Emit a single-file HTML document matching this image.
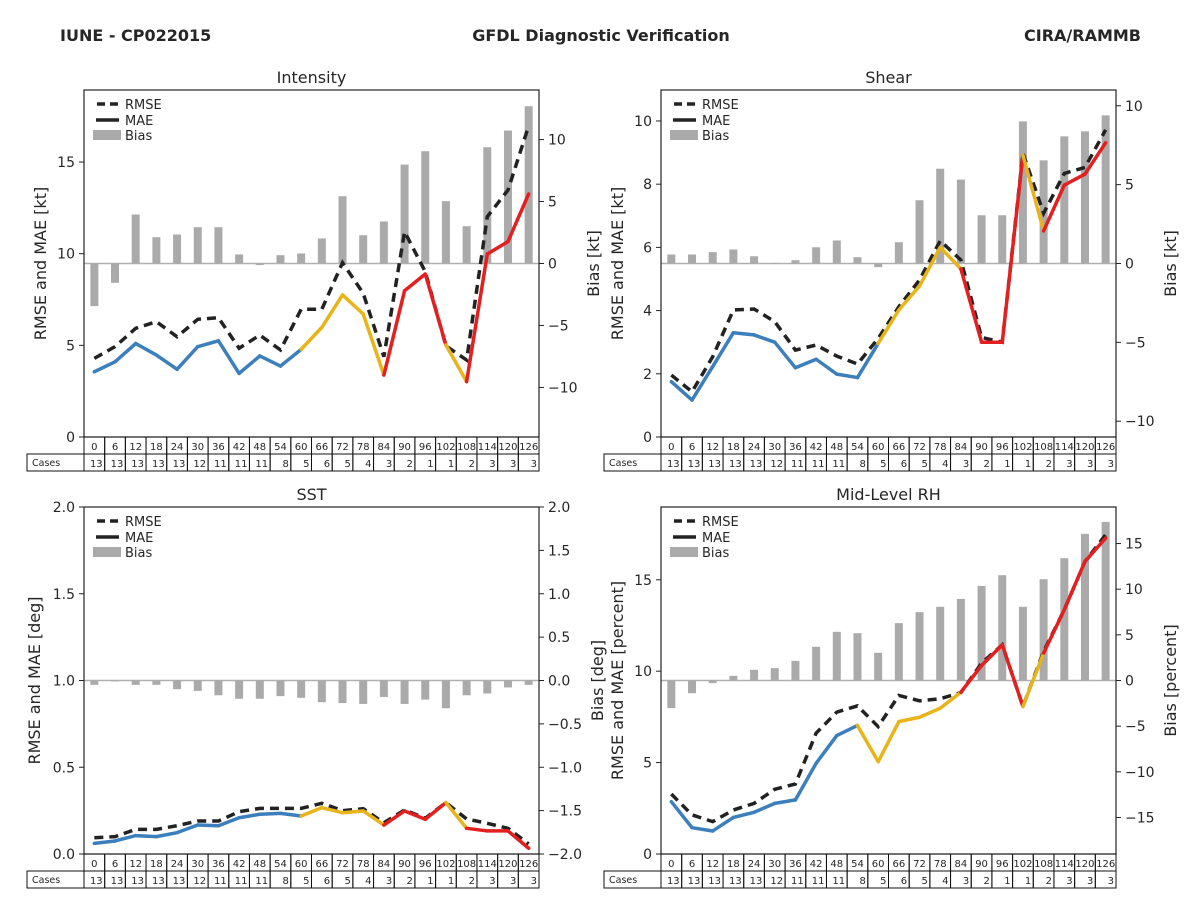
<!DOCTYPE html>
<html><head><meta charset="utf-8"><style>
body{margin:0;background:#fff;}
svg text{font-family:"DejaVu Sans","Liberation Sans",sans-serif;fill:#262626;}
</style></head><body>
<svg id="root" width="1200" height="900" xmlns="http://www.w3.org/2000/svg">
<text x="60" y="41" font-size="16" font-weight="bold">IUNE - CP022015</text>
<text x="601" y="41" font-size="16" font-weight="bold" text-anchor="middle">GFDL Diagnostic Verification</text>
<text x="1141" y="41" font-size="16" font-weight="bold" text-anchor="end">CIRA/RAMMB</text>
</svg>
<script>
const hours=[0,6,12,18,24,30,36,42,48,54,60,66,72,78,84,90,96,102,108,114,120,126];
const cases=[13,13,13,13,13,12,11,11,11,8,5,6,5,4,3,2,1,1,2,3,3,3];
const intMae=[3.56,4.1,5.1,4.47,3.69,4.93,5.25,3.47,4.42,3.87,4.78,5.98,7.75,6.71,3.38,7.98,8.89,5.02,3.02,9.98,10.66,13.26];
const intRmse=[4.29,4.93,5.93,6.29,5.47,6.42,6.51,4.84,5.56,4.75,6.97,6.97,9.51,7.84,4.38,11.2,9.02,4.97,4.2,12.02,13.47,16.97];
const intBias=[-3.44,-1.56,3.95,2.12,2.34,2.93,2.93,0.73,-0.13,0.67,0.81,2.02,5.43,2.28,3.39,7.98,9.06,5.03,3.01,9.38,10.73,12.69];
const shrMae=[1.75,1.17,2.23,3.3,3.23,3.0,2.19,2.46,1.99,1.88,2.96,4.02,4.78,6.0,5.32,3.0,3.0,8.92,6.52,7.97,8.32,9.31];
const shrRmse=[1.96,1.43,2.54,4.02,4.05,3.65,2.75,2.91,2.56,2.31,3.12,4.12,4.97,6.21,5.6,3.15,3.0,8.98,7.08,8.34,8.53,9.72];
const shrBias=[0.57,0.57,0.72,0.89,0.46,0.04,0.21,1.03,1.46,0.4,-0.23,1.35,4.01,6.01,5.32,3.06,3.06,9.01,6.54,8.06,8.38,9.39];
const sstMae=[0.061,0.075,0.106,0.1,0.123,0.167,0.163,0.209,0.229,0.234,0.219,0.267,0.238,0.248,0.167,0.248,0.2,0.296,0.148,0.133,0.133,0.033];
const sstRmse=[0.094,0.1,0.142,0.142,0.163,0.19,0.19,0.244,0.263,0.263,0.263,0.292,0.25,0.261,0.18,0.254,0.206,0.296,0.202,0.177,0.148,0.058];
const sstBias=[-0.05,-0.01,-0.05,-0.05,-0.1,-0.12,-0.17,-0.21,-0.21,-0.18,-0.2,-0.25,-0.26,-0.27,-0.19,-0.27,-0.22,-0.32,-0.17,-0.15,-0.08,-0.05];
const rhMae=[2.86,1.44,1.26,2.0,2.28,2.77,2.96,4.96,6.48,7.03,5.05,7.24,7.48,7.97,8.85,10.31,11.44,8.07,10.99,13.36,16.0,17.28];
const rhRmse=[3.28,2.14,1.77,2.41,2.77,3.54,3.83,6.61,7.76,8.1,6.97,8.67,8.38,8.49,8.83,10.44,11.44,8.07,11.08,13.36,16.0,17.46];
const rhBias=[-3.03,-1.39,-0.29,0.51,1.17,1.35,2.15,3.69,5.33,5.18,3.03,6.28,7.48,8.07,8.94,10.36,11.53,8.07,11.09,13.39,16.06,17.37];
const segA=["b","b","b","b","b","b","b","b","b","b","y","y","y","y","r","r","r","y","r","r","r"];
const segB=["b","b","b","b","b","b","b","b","b","y","y","y","y","y","r","r","r","y","r","r","r"];
const COL={b:"#3b7fbd",y:"#e8b419",r:"#e41f20"};
const NS="http://www.w3.org/2000/svg";
const root=document.getElementById('root');
function mk(tag,attrs,parent,txt){const e=document.createElementNS(NS,tag);for(const k in attrs)e.setAttribute(k,attrs[k]);if(txt!==undefined)e.textContent=txt;(parent||root).appendChild(e);return e;}
function fmt(v,d){const s=v.toFixed(d);return v<0?"\u2212"+s.slice(1):s;}
function panel(p){
  const g=mk('g',{});
  
  
  const x0=p.x,x1=p.x+455,y0=p.y,y1=p.y+347,n=hours.length,cw=455/n;
  const X=i=>x0+cw*(i+0.5);
  const YL=v=>y1-(v-p.l[0])/(p.l[1]-p.l[0])*347;
  const YR=v=>y1-(v-p.r[0])/(p.r[1]-p.r[0])*347;
  const t=mk('text',{x:(x0+x1)/2,y:y0-7,'font-size':16,'text-anchor':'middle'},g,p.title);
  
  
  mk('line',{x1:x0,x2:x1,y1:YR(0),y2:YR(0),stroke:'#b0b0b0','stroke-width':1.5},g);
  p.bias.forEach((v,i)=>{
    const b=mk('rect',{x:X(i)-4,width:8,y:Math.min(YR(0),YR(v)),height:Math.max(0.5,Math.abs(YR(v)-YR(0))),fill:'#aaaaaa'},g);
    
    
  });
  const rm=mk('polyline',{points:p.rmse.map((v,i)=>X(i)+','+YL(v)).join(' '),fill:'none',stroke:'#222','stroke-width':3.5,'stroke-dasharray':'9,6'},g);
  
  
  for(let i=0;i<n-1;i++){
    const s=mk('line',{x1:X(i),y1:YL(p.mae[i]),x2:X(i+1),y2:YL(p.mae[i+1]),stroke:COL[p.seg[i]],'stroke-width':3.5,'stroke-linecap':'round'},g);
    
    
  }
  mk('rect',{x:x0,y:y0,width:455,height:347,fill:'none',stroke:'#222','stroke-width':1.2},g);
  p.lt.forEach(v=>{const y=YL(v);mk('line',{x1:x0-5,x2:x0,y1:y,y2:y,stroke:'#222'},g);
    const tl=mk('text',{x:x0-9,y:y+5,'font-size':14,'text-anchor':'end'},g,fmt(v,p.ld));
    });
  p.rt.forEach(v=>{const y=YR(v);mk('line',{x1:x1,x2:x1+5,y1:y,y2:y,stroke:'#222'},g);
    const tl=mk('text',{x:x1+9,y:y+5,'font-size':14},g,fmt(v,p.rd));
    });
  const la=mk('text',{x:0,y:0,'font-size':16,'text-anchor':'middle',transform:`translate(${p.lx},${(y0+y1)/2}) rotate(-90)`},g,p.ll);
  
  const ra=mk('text',{x:0,y:0,'font-size':16,'text-anchor':'middle',transform:`translate(${p.rx},${(y0+y1)/2}) rotate(-90)`},g,p.rl);
  
  const lg=mk('g',{},g);
  
  mk('line',{x1:x0+13,x2:x0+35,y1:y0+14,y2:y0+14,stroke:'#222','stroke-width':3.5,'stroke-dasharray':'8,5'},lg);
  mk('text',{x:x0+41,y:y0+19,'font-size':13},lg,'RMSE');
  mk('line',{x1:x0+12,x2:x0+35,y1:y0+30,y2:y0+30,stroke:'#222','stroke-width':3.5},lg);
  mk('text',{x:x0+41,y:y0+35,'font-size':13},lg,'MAE');
  mk('rect',{x:x0+9,y:y0+40,width:28,height:10,fill:'#aaaaaa'},lg);
  mk('text',{x:x0+41,y:y0+50,'font-size':13},lg,'Bias');
  const tb=mk('g',{},g);
  
  mk('rect',{x:x0-57,y:y1+17,width:57,height:17,fill:'none',stroke:'#111'},tb);
  mk('text',{x:x0-52,y:y1+29,'font-size':9.5},tb,'Cases');
  for(let i=0;i<n;i++){
    const cx=x0+cw*i;
    mk('rect',{x:cx,y:y1,width:cw,height:17,fill:'none',stroke:'#111'},tb);
    mk('rect',{x:cx,y:y1+17,width:cw,height:17,fill:'none',stroke:'#111'},tb);
    mk('text',{x:cx+cw/2,y:y1+13,'font-size':10,'text-anchor':'middle'},tb,String(hours[i]));
    mk('text',{x:cx+cw-2,y:y1+30,'font-size':10,'text-anchor':'end'},tb,String(cases[i]));
  }
}
panel({id:'intensity',title:'Intensity',x:84,y:90,l:[0,18.93],r:[-14,14],lt:[0,5,10,15],rt:[-10,-5,0,5,10],ld:0,rd:0,mae:intMae,rmse:intRmse,bias:intBias,seg:segA,lx:46,rx:599,ll:'RMSE and MAE [kt]',rl:'Bias [kt]'});
panel({id:'shear',title:'Shear',x:661,y:90,l:[0,10.98],r:[-11,11],lt:[0,2,4,6,8,10],rt:[-10,-5,0,5,10],ld:0,rd:0,mae:shrMae,rmse:shrRmse,bias:shrBias,seg:segA,lx:623,rx:1176,ll:'RMSE and MAE [kt]',rl:'Bias [kt]'});
panel({id:'sst',title:'SST',x:84,y:507,l:[0,2],r:[-2,2],lt:[0,0.5,1,1.5,2],rt:[-2,-1.5,-1,-0.5,0,0.5,1,1.5,2],ld:1,rd:1,mae:sstMae,rmse:sstRmse,bias:sstBias,seg:segA,lx:40,rx:603,ll:'RMSE and MAE [deg]',rl:'Bias [deg]'});
panel({id:'mid-level-rh',title:'Mid-Level RH',x:661,y:507,l:[0,18.98],r:[-19,19],lt:[0,5,10,15],rt:[-15,-10,-5,0,5,10,15],ld:0,rd:0,mae:rhMae,rmse:rhRmse,bias:rhBias,seg:segB,lx:623,rx:1176,ll:'RMSE and MAE [percent]',rl:'Bias [percent]'});
</script>
</body></html>
